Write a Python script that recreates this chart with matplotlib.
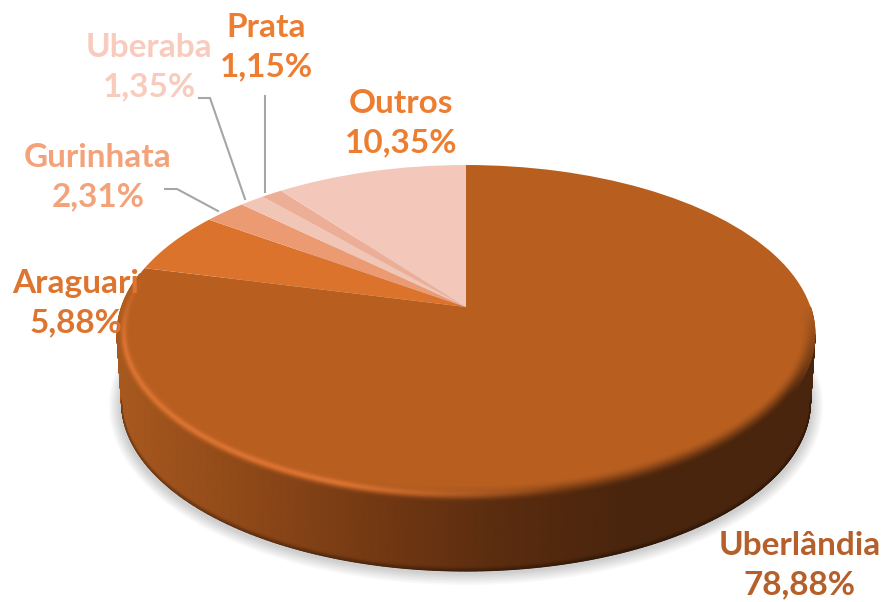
import numpy as np
import matplotlib
matplotlib.use("Agg")
import matplotlib.pyplot as plt
from matplotlib.colors import to_rgb
from matplotlib.transforms import Transform

# Data
cidades = ["Uberlândia", "Araguari", "Gurinhata", "Uberaba", "Prata", "Outros"]
valores = [78.88, 5.88, 2.31, 1.35, 1.15, 10.35]
rotulos = ["78,88%", "5,88%", "2,31%", "1,35%", "1,15%", "10,35%"]

cores_fatia = ["#b85f20", "#db732d", "#ec9a72", "#f2c6b6", "#edae97", "#f3c8bb"]
cores_texto = ["#b5602a", "#dd7530", "#f4a27a", "#f8cbbd", "#ed7d31", "#ed7d31"]

# Label centres, in picture pixels
pos_rotulo = {
    "Uberlândia": (800, 565),
    "Araguari": (76, 303),
    "Gurinhata": (98, 177),
    "Uberaba": (149, 67),
    "Prata": (266, 47),
    "Outros": (401, 123),
}
guias = [
    ([165, 177, 218], [189, 189, 211]),
    ([199, 210, 245], [98, 98, 199]),
    ([265, 265], [96, 192]),
]

# Pie tilt: apex at (466, 307), rim from y=165 to y=503
CX, CY = 466, 307
K = 0.16
A = 164.7
B = 344.5
PROF = 68


class Tilt(Transform):
    input_dims = output_dims = 2

    def transform_non_affine(self, xy):
        xy = np.asarray(xy, dtype=float)
        d = 1 + K * xy[:, 1]
        return np.column_stack([CX + B * xy[:, 0] / d, CY - A * xy[:, 1] / d])


def tilt(x, y):
    d = 1 + K * y
    return CX + B * x / d, CY - A * y / d


def mistura(c1, c2, t):
    return c1 * (1 - t[..., None]) + c2 * t[..., None]


plt.rcParams["font.family"] = ["Lato", "DejaVu Sans"]
fig = plt.figure(figsize=(8.86, 6.02), dpi=100)
ax = fig.add_axes([0, 0, 1, 1])

# Shadow
t = np.linspace(0, 2 * np.pi, 300)
for d in np.arange(12, 0, -1.5):
    ax.fill(466 + (345 + d) * np.cos(t), 406 + (167 + d) * np.sin(t),
            color="#000000", alpha=0.022, lw=0, zorder=1)

# Side of the pie, shaded from left to right, between the two extremes of the rim
fi_lado = np.radians(np.linspace(-9.2, -170.8, 500))
xs, ys = tilt(np.cos(fi_lado), np.sin(fi_lado))
xb = CX + (xs - CX) * 0.987
yb = ys + PROF
m = np.linspace(0, 1, 30)[:, None]
X = xs + (xb - xs) * m
Y = ys + (yb - ys) * m
grad_x = [117, 250, 400, 500, 620, 815]
grad_c = np.array([to_rgb(c) for c in ["#a8591e", "#8e4818", "#6e3612", "#5a2c0f", "#4a250d", "#4a250d"]])
cor_lado = np.stack([np.interp(X, grad_x, grad_c[:, i]) for i in range(3)], axis=-1)
escuro = np.clip((m - 0.95) / 0.05, 0, 1) * 0.4
cor_lado = cor_lado * (1 - escuro[..., None])
ax.pcolormesh(X, Y, cor_lado, shading="gouraud", zorder=2, rasterized=True)

# The slices themselves
wedges, _ = ax.pie(valores, colors=cores_fatia, startangle=90, counterclock=False,
                   radius=1, wedgeprops={"linewidth": 0})
tr = Tilt() + ax.transData
for w in wedges:
    w.set_transform(tr)
    w.set_zorder(3)

# Bevel along the front rim
fi = np.radians(np.linspace(0, -192, 500))
u = np.linspace(0, 1, 24)[:, None]
ux = np.cos(fi) * (1 - 0.04 * u)
uy = np.sin(fi) * (1 - 0.08 * u)
Xr, Yr = tilt(ux, uy)
rim_base = np.stack([np.interp(Xr, grad_x, grad_c[:, i]) for i in range(3)], axis=-1)
face = np.array(to_rgb(cores_fatia[0]))
luz = np.array(to_rgb("#dc7432"))
suave = u * u * (3 - 2 * u)
cor_rim = mistura(rim_base, np.broadcast_to(face, rim_base.shape), np.broadcast_to(suave, Xr.shape))
forca = np.clip((560 - Xr) / 220, 0, 1) * np.exp(-((u - 0.5) / 0.22) ** 2)
cor_rim = mistura(cor_rim, np.broadcast_to(luz, cor_rim.shape), forca)
# fade the ends of the rim into the flat face
graus = np.degrees(fi)
fim = np.clip(-graus / 30, 0, 1) * np.clip((graus + 192) / 25, 0, 1)
fim = np.broadcast_to(fim, Xr.shape)
cor_rim = mistura(np.broadcast_to(face, cor_rim.shape), cor_rim, fim)
ax.pcolormesh(Xr, Yr, cor_rim, shading="gouraud", zorder=4, rasterized=True)

# Leader lines
for gx, gy in guias:
    ax.plot(gx, gy, color="#a6a6a6", lw=1.5, zorder=5, solid_joinstyle="miter")

# Labels
for nome, rot, cor in zip(cidades, rotulos, cores_texto):
    x, y = pos_rotulo[nome]
    ax.text(x, y, f"{nome}\n{rot}", color=cor, fontsize=24, fontweight="bold",
            ha="center", va="center", linespacing=1.44, zorder=6)

ax.set_aspect("auto")
ax.set_xlim(0, 886)
ax.set_ylim(602, 0)
ax.axis("off")
fig.savefig("out.png", dpi=100, facecolor="white")
